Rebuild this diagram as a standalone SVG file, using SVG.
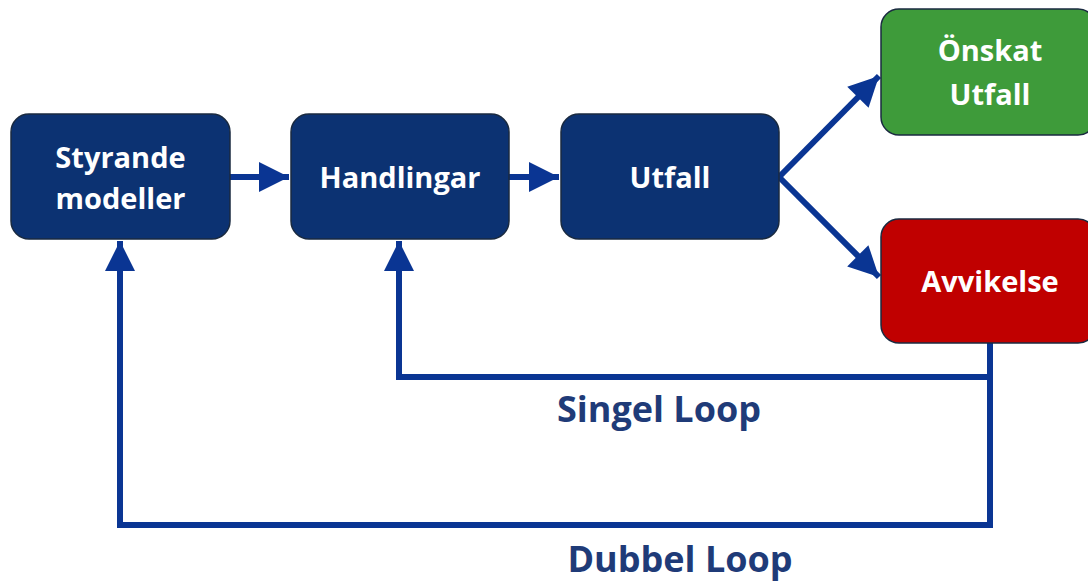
<svg xmlns="http://www.w3.org/2000/svg" width="1088" height="584" viewBox="0 0 1088 584">
<style>
.box{stroke:#1a2a40;stroke-width:1.5}
.navy{fill:#0c3272}
.green{fill:#3e9b3a}
.red{fill:#c00000}
.lbl{font-family:"Open Sans",Lato,sans-serif;font-weight:bold;font-size:29px;fill:#ffffff;text-anchor:middle}
.loop{font-family:"Open Sans",Lato,sans-serif;font-weight:bold;font-size:36px;fill:#1f3b78;text-anchor:middle}
.con{fill:none;stroke:#0a3593;stroke-width:6}
</style>
<defs>
<marker id="ah" viewBox="0 0 10 10" refX="10" refY="5" markerWidth="5.5" markerHeight="5" markerUnits="strokeWidth" orient="auto">
<path d="M0,0 L10,5 L0,10 Z" fill="#0a3593"/>
</marker>
</defs>
<rect width="1088" height="584" fill="#ffffff"/>
<g id="connectors">
<line class="con" x1="230" y1="177" x2="289" y2="177" marker-end="url(#ah)"/>
<line class="con" x1="509" y1="177" x2="559" y2="177" marker-end="url(#ah)"/>
<line class="con" x1="779" y1="177" x2="879" y2="76" marker-end="url(#ah)"/>
<line class="con" x1="779" y1="177" x2="879" y2="277" marker-end="url(#ah)"/>
<polyline class="con" points="990,343 990,377 399,377 399,241" marker-end="url(#ah)"/>
<polyline class="con" points="990,377 990,525 120,525 120,241" marker-end="url(#ah)"/>
</g>
<g id="styrande">
<rect class="box navy" x="11" y="114" width="219" height="125" rx="18"/>
<text class="lbl" x="120.5" y="168">Styrande</text>
<text class="lbl" x="120.5" y="209">modeller</text>
</g>
<g id="handlingar">
<rect class="box navy" x="291" y="114" width="218" height="125" rx="18"/>
<text class="lbl" x="400" y="188">Handlingar</text>
</g>
<g id="utfall">
<rect class="box navy" x="561" y="114" width="218" height="125" rx="18"/>
<text class="lbl" x="670" y="188">Utfall</text>
</g>
<g id="onskat">
<rect class="box green" x="881" y="9" width="215" height="126" rx="18"/>
<text class="lbl" x="990" y="61">Önskat</text>
<text class="lbl" x="990" y="105">Utfall</text>
</g>
<g id="avvikelse">
<rect class="box red" x="881" y="219" width="215" height="124" rx="18"/>
<text class="lbl" x="990" y="292">Avvikelse</text>
</g>
<g id="labels">
<text class="loop" x="659" y="422">Singel Loop</text>
<text class="loop" x="680" y="572">Dubbel Loop</text>
</g>
</svg>
